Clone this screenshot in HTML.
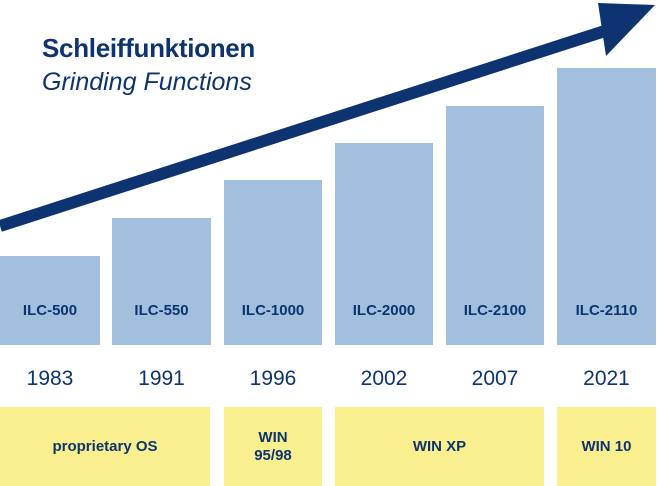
<!DOCTYPE html>
<html><head><style>
body{margin:0;width:658px;height:486px;background:#fff;overflow:hidden;font-family:"Liberation Sans",sans-serif;position:relative;color:#0d3470}
.b{position:absolute;background:#a2bfdd;bottom:141px}
.l{position:absolute;font-weight:bold;font-size:15px;text-align:center;width:100%;left:0}
.y{position:absolute;top:367px;font-size:21px;text-align:center}
.o{position:absolute;top:407px;height:79px;background:#f9ef8f;display:flex;align-items:center;justify-content:center;text-align:center;font-weight:bold;font-size:15px;line-height:18px}
</style></head><body>
<svg width="658" height="486" style="position:absolute;left:0;top:0">
<line x1="0" y1="226" x2="608" y2="30" stroke="#0d3470" stroke-width="12"/>
<polygon points="598,3 655,5 606,56" fill="#0d3470"/>
</svg>
<div style="position:absolute;left:42px;top:33px;font-size:26px;font-weight:bold;letter-spacing:-0.3px">Schleiffunktionen</div>
<div style="position:absolute;left:42px;top:68px;font-size:25px;font-style:italic">Grinding Functions</div>
<div class="b" style="left:0;width:100px;top:256px"><div class="l" style="top:46px">ILC-500</div></div>
<div class="b" style="left:112px;width:99px;top:218px"><div class="l" style="top:84px">ILC-550</div></div>
<div class="b" style="left:224px;width:98px;top:180px"><div class="l" style="top:122px">ILC-1000</div></div>
<div class="b" style="left:335px;width:98px;top:143px"><div class="l" style="top:159px">ILC-2000</div></div>
<div class="b" style="left:446px;width:98px;top:106px"><div class="l" style="top:196px">ILC-2100</div></div>
<div class="b" style="left:557px;width:99px;top:68px"><div class="l" style="top:234px">ILC-2110</div></div>
<div class="y" style="left:0;width:100px">1983</div>
<div class="y" style="left:112px;width:99px">1991</div>
<div class="y" style="left:224px;width:98px">1996</div>
<div class="y" style="left:335px;width:98px">2002</div>
<div class="y" style="left:446px;width:98px">2007</div>
<div class="y" style="left:557px;width:99px">2021</div>
<div class="o" style="left:0;width:210px">proprietary OS</div>
<div class="o" style="left:224px;width:98px">WIN<br>95/98</div>
<div class="o" style="left:335px;width:209px">WIN XP</div>
<div class="o" style="left:557px;width:99px">WIN 10</div>
</body></html>
